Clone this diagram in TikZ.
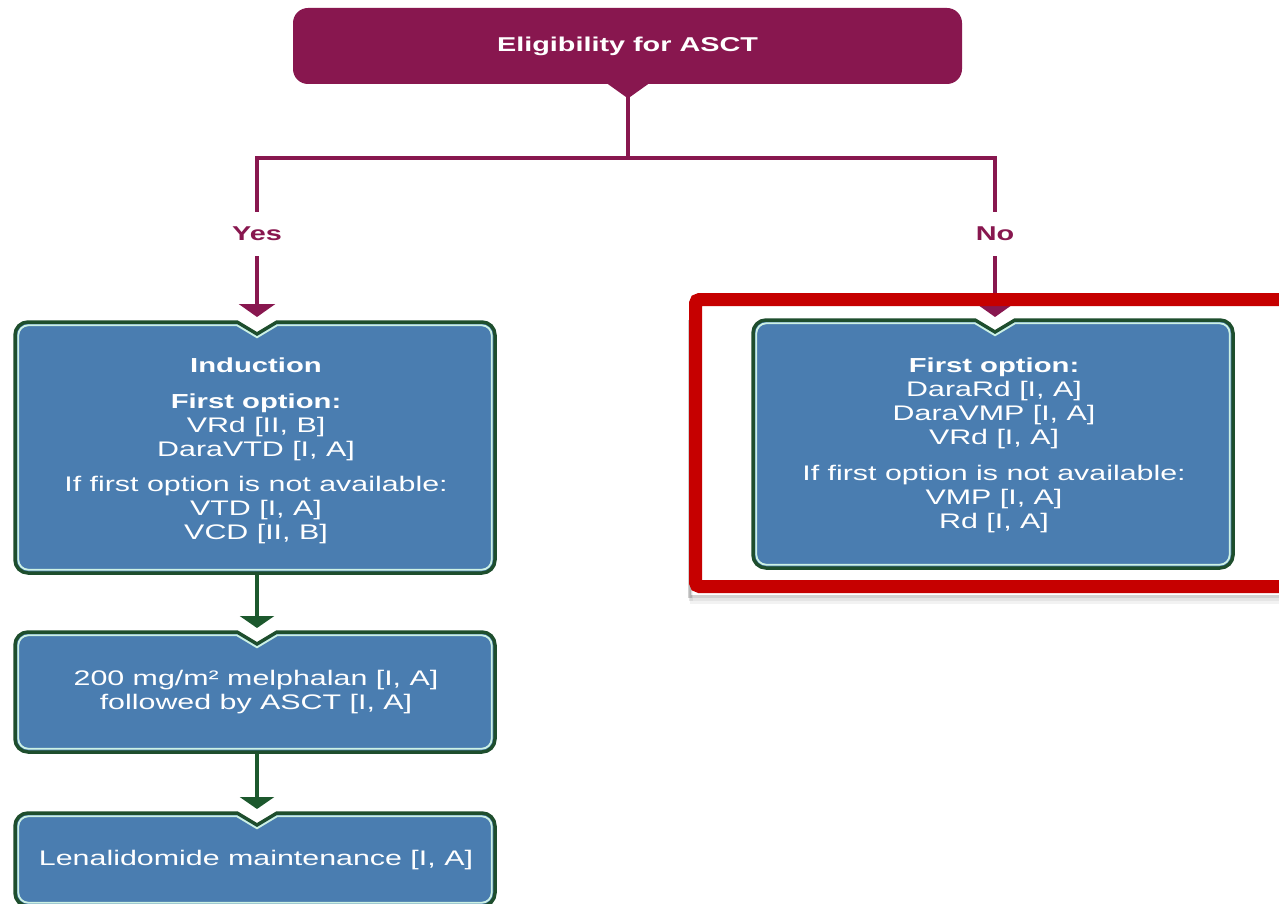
\documentclass[tikz,border=0pt]{standalone}
\usepackage{fontspec}
\setmainfont{Liberation Sans}
\newfontfamily\wf{Liberation Sans}[FakeStretch=1.44]
\usetikzlibrary{arrows.meta}
\definecolor{maroon}{RGB}{136,23,79}
\definecolor{boxblue}{RGB}{74,125,176}
\definecolor{dgreen}{RGB}{30,78,45}
\definecolor{mint}{RGB}{205,242,228}
\definecolor{redframe}{RGB}{198,0,0}
\definecolor{garrow}{RGB}{28,88,45}

% notched rounded box path: L T R B cx r
\newcommand{\nbp}[6]{({#5-20},{#2}) -- ({#5},{#2+12}) -- ({#5+20},{#2}) -- ({#3-#6},{#2}) arc[start angle=-90,end angle=0,radius=#6] -- ({#3},{#4-#6}) arc[start angle=0,end angle=90,radius=#6] -- ({#1+#6},{#4}) arc[start angle=90,end angle=180,radius=#6] -- ({#1},{#2+#6}) arc[start angle=180,end angle=270,radius=#6] -- cycle}
\newcommand{\nbox}[5]{%
  \fill[boxblue] \nbp{#1}{#2}{#3}{#4}{#5}{13};
  \draw[dgreen, line width=3.5] \nbp{#1}{#2}{#3}{#4}{#5}{13};
  \draw[mint, line width=1.8] \nbp{#1+3.3}{#2+3.3}{#3-3.3}{#4-3.3}{#5}{10};
}
\newcommand{\bt}[1]{{\fontsize{20.3}{24}\selectfont\bfseries #1}}

\begin{document}
\begin{tikzpicture}[x=1pt,y=-1pt,
  btxt/.style={text=white, align=center, inner sep=0pt, font=\wf\fontsize{21.1}{24}\selectfont},
  yn/.style={text=maroon, inner sep=0pt, minimum height=44pt, font=\wf\bfseries\fontsize{20}{24}\selectfont},
  mline/.style={maroon, line width=3.5},
  marr/.style={maroon, line width=3.5, -{Triangle[width=36pt,length=13pt]}},
  garr/.style={garrow, line width=3.5, -{Triangle[width=34pt,length=12pt]}},
  topbox/.style={fill=maroon, rounded corners=15pt, minimum width=669pt, minimum height=76pt, inner sep=0pt, text=white, font=\wf\bfseries\fontsize{20}{24}\selectfont}
]
\useasboundingbox (0,0) rectangle (1279,904);
\fill[white] (0,0) rectangle (1279,904);

% top decision box
\node[topbox] (elig) at (627.5,46) {Eligibility for ASCT};
\fill[maroon] (605,82) -- (651,82) -- (630,97) -- (626,97) -- cycle;
\coordinate (tip) at (628,95);
\coordinate (hj) at (628,158);

% labels
\node[yn] (yes) at (257,234) {Yes};
\node[yn] (no) at (995,234) {No};

% boxes
\nbox{15}{322}{495}{573}{257}
\nbox{15}{632}{495}{752}{257}
\nbox{15}{813}{495}{906}{257}
\nbox{753}{320}{1233}{568}{995}

\coordinate (b1in) at (257,317);
\coordinate (b1out) at (257,575);
\coordinate (b2in) at (257,628);
\coordinate (b2out) at (257,754);
\coordinate (b3in) at (257,809);
\coordinate (rin) at (995,317);

% texts
\node[btxt] (induction) at (256,451) {\bt{Induction}\\[12pt]\bt{First option:}\\VRd [II, B]\\DaraVTD [I, A]\\[11pt]If first option is not available:\\VTD [I, A]\\VCD [II, B]};
\node[btxt] (melph) at (256,692) {200 mg/m² melphalan [I, A]\\followed by ASCT [I, A]};
\node[btxt] (lena) at (256,860) {Lenalidomide maintenance [I, A]};
\node[btxt] (noasct) at (994,445) {\bt{First option:}\\DaraRd [I, A]\\DaraVMP [I, A]\\VRd [I, A]\\[12pt]If first option is not available:\\VMP [I, A]\\Rd [I, A]};

% connectors
\draw[mline] (tip) -- (hj) -| (yes);
\draw[mline] (hj) -| (no);
\draw[marr] (yes) -- (b1in);
\draw[marr] (no) -- (rin);
\draw[garr] (b1out) -- (b2in);
\draw[garr] (b2out) -- (b3in);

% red highlight frame with soft shadow
\foreach \o/\op in {3/0.18,6/0.10,9/0.05}{
  \draw[black, opacity=\op, line width=3] (1300,{586.5+6.5+\o}) -- ({695.5-6.5+\o*0.3},{586.5+6.5+\o}) -- ({695.5-6.5+\o*0.3},320);
}
\draw[redframe, line width=13, rounded corners=4pt] (1300,299.5) -- (695.5,299.5) -- (695.5,586.5) -- (1300,586.5);
\end{tikzpicture}
\end{document}
